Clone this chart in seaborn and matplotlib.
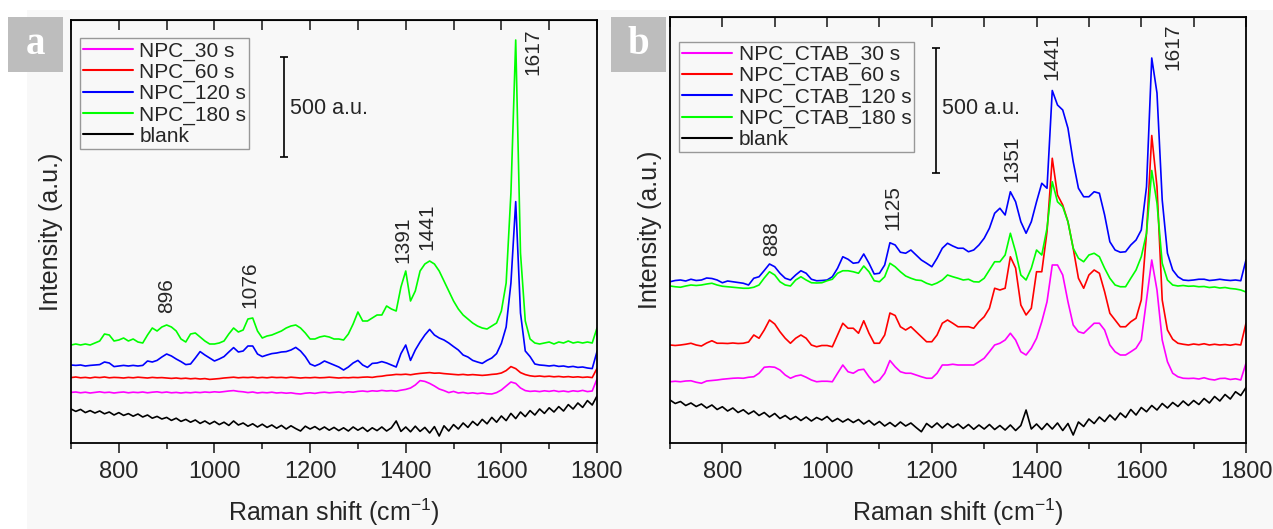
# Raman spectra of NPC samples, two panels (a: NPC, b: NPC_CTAB)
import pandas as pd
import seaborn as sns
import matplotlib.pyplot as plt
from matplotlib.patches import Rectangle
from matplotlib.ticker import MultipleLocator
from matplotlib.font_manager import FontProperties

# ---------------------------------
# DATA (intensity in a.u., curves already stacked as in the figure)
# ---------------------------------
shift = list(range(700, 1801, 10))

npc_30 = [253, 255, 251, 254, 250, 253, 256, 252, 254, 250,
          253, 255, 251, 254, 252, 255, 251, 254, 256, 252,
          255, 251, 253, 250, 253, 251, 254, 252, 255, 253,
          256, 254, 257, 260, 262, 258, 256, 252, 255, 250,
          253, 251, 254, 250, 252, 249, 251, 247, 245, 249,
          251, 248, 252, 254, 251, 253, 255, 252, 256, 254,
          258, 260, 257, 261, 259, 263, 260, 262, 259, 264,
          268, 275, 290, 312, 308, 298, 285, 270, 262, 252,
          258, 250, 253, 248, 251, 247, 250, 246, 245, 252,
          265, 285, 305, 298, 275, 262, 258, 260, 257, 261,
          258, 262, 257, 260, 256, 261, 258, 263, 257, 260,
          320]
npc_60 = [327, 330, 326, 328, 325, 329, 327, 330, 326, 328,
          327, 325, 328, 326, 329, 327, 325, 328, 326, 327,
          325, 323, 325, 322, 324, 321, 323, 320, 322, 318,
          320, 322, 325, 327, 329, 326, 328, 327, 329, 326,
          328, 326, 329, 327, 328, 326, 329, 327, 325, 327,
          326, 328, 326, 327, 329, 327, 325, 327, 326, 328,
          327, 329, 330, 328, 332, 334, 338, 340, 343, 342,
          344, 341, 345, 348, 350, 352, 349, 350, 347, 345,
          343, 341, 343, 340, 342, 340, 338, 340, 343, 345,
          350, 362, 382, 372, 352, 342, 336, 333, 335, 332,
          334, 331, 333, 330, 332, 329, 331, 328, 330, 327,
          373]
npc_120 = [390, 388, 390, 385, 388, 390, 392, 405, 400, 382,
           385, 388, 385, 388, 385, 388, 410, 405, 413, 430,
           445, 435, 420, 407, 392, 395, 425, 457, 440, 425,
           410, 420, 432, 455, 477, 455, 460, 485, 485, 445,
           432, 440, 447, 450, 455, 457, 465, 478, 460, 432,
           395, 385, 395, 410, 400, 390, 380, 365, 380, 400,
           413, 390, 378, 398, 400, 407, 400, 390, 380, 447,
           490, 413, 465, 505, 540, 568, 540, 525, 515, 500,
           482, 465, 440, 430, 413, 405, 398, 413, 425, 447,
           498, 580, 800, 1207, 650, 460, 432, 395, 390, 388,
           385, 388, 383, 385, 380, 383, 378, 380, 375, 372,
           457]
npc_180 = [490, 495, 490, 495, 490, 500, 510, 545, 540, 510,
           515, 525, 510, 520, 505, 500, 540, 575, 560, 580,
           590, 580, 560, 520, 505, 545, 550, 530, 510, 495,
           495, 500, 510, 545, 575, 555, 565, 620, 625, 560,
           525, 535, 540, 550, 560, 575, 585, 590, 575, 550,
           520, 520, 530, 535, 530, 520, 520, 515, 545, 595,
           655, 610, 610, 625, 640, 640, 685, 670, 660, 780,
           860, 710, 760, 860, 895, 910, 895, 860, 810, 760,
           710, 670, 640, 620, 600, 585, 575, 570, 585, 600,
           660, 800, 1250, 2015, 950, 610, 520, 500, 495, 500,
           505, 495, 505, 500, 510, 500, 505, 500, 505, 500,
           575]
blank_a = [170, 158, 168, 152, 162, 150, 160, 146, 155, 140,
           152, 138, 147, 134, 145, 130, 140, 124, 133, 120,
           128, 113, 124, 108, 118, 104, 115, 98, 110, 95,
           108, 92, 104, 88, 110, 90, 100, 84, 96, 80,
           94, 78, 90, 74, 88, 70, 86, 72, 60, 84,
           70, 82, 66, 80, 64, 78, 62, 76, 60, 80,
           64, 78, 58, 76, 62, 80, 60, 76, 110, 58,
           80, 56, 84, 58, 78, 50, 82, 35, 86, 60,
           92, 70, 100, 78, 108, 88, 118, 96, 128, 104,
           135, 112, 148, 122, 155, 132, 162, 140, 170, 148,
           176, 155, 182, 160, 192, 170, 200, 178, 212, 190,
           235]

ctab_30 = [245, 247, 245, 248, 249, 243, 239, 248, 250, 252,
           255, 257, 259, 260, 259, 263, 265, 279, 303, 305,
           303, 292, 272, 259, 268, 272, 263, 252, 245, 247,
           247, 245, 279, 312, 285, 279, 292, 295, 265, 241,
           252, 279, 330, 305, 285, 279, 279, 272, 265, 259,
           259, 279, 312, 312, 315, 312, 312, 312, 312, 325,
           339, 365, 392, 399, 412, 439, 412, 365, 352, 379,
           419, 485, 565, 712, 712, 672, 565, 472, 445, 439,
           459, 479, 479, 452, 392, 365, 352, 352, 365, 379,
           412, 572, 732, 612, 412, 325, 279, 265, 259, 258,
           259, 256, 261, 255, 252, 258, 259, 254, 257, 252,
           319]
ctab_60 = [392, 390, 392, 395, 399, 392, 388, 400, 409, 399,
           399, 398, 400, 398, 399, 404, 432, 419, 452, 492,
           476, 445, 419, 399, 419, 432, 419, 392, 385, 390,
           390, 385, 432, 479, 459, 459, 439, 489, 439, 399,
           399, 432, 520, 510, 465, 452, 465, 445, 425, 405,
           405, 432, 479, 492, 479, 465, 465, 465, 459, 485,
           505, 539, 619, 612, 619, 745, 700, 552, 512, 539,
           685, 685, 845, 1139, 992, 952, 885, 779, 659, 619,
           672, 692, 679, 605, 519, 492, 465, 465, 485, 499,
           572, 839, 1230, 1025, 572, 452, 415, 399, 395, 392,
           396, 393, 397, 392, 395, 392, 394, 391, 395, 392,
           479]
ctab_120 = [645, 650, 652, 648, 655, 650, 652, 660, 658, 652,
            641, 648, 645, 642, 639, 632, 659, 665, 690, 716,
            705, 679, 659, 652, 672, 689, 679, 655, 649, 650,
            652, 665, 699, 745, 735, 719, 722, 756, 719, 676,
            679, 712, 801, 792, 763, 759, 772, 752, 732, 719,
            705, 739, 779, 799, 788, 779, 779, 765, 772, 792,
            819, 859, 919, 939, 912, 1005, 965, 885, 839, 885,
            965, 1039, 1019, 1410, 1352, 1332, 1259, 1125, 1019, 985,
            985, 1005, 999, 912, 805, 772, 763, 765, 792, 812,
            852, 1025, 1540, 1400, 972, 759, 692, 665, 652, 650,
            652, 655, 655, 650, 652, 655, 652, 650, 652, 649,
            732]
ctab_180 = [628, 625, 623, 628, 632, 630, 632, 636, 639, 632,
            627, 625, 623, 621, 619, 619, 623, 632, 660, 685,
            672, 645, 632, 628, 652, 665, 652, 641, 640, 641,
            649, 655, 679, 689, 689, 685, 679, 708, 685, 649,
            645, 665, 719, 705, 685, 668, 659, 652, 650, 639,
            632, 640, 652, 672, 665, 659, 652, 655, 645, 644,
            659, 692, 725, 725, 752, 839, 765, 672, 652, 699,
            772, 752, 859, 1045, 965, 945, 885, 779, 739, 725,
            752, 759, 745, 699, 659, 632, 625, 625, 659, 692,
            745, 839, 1090, 960, 719, 652, 632, 628, 630, 627,
            628, 625, 626, 622, 624, 620, 622, 618, 616, 612,
            604]
blank_b = [172, 158, 166, 150, 160, 146, 156, 140, 152, 134,
           145, 128, 140, 122, 133, 116, 128, 110, 122, 104,
           118, 98, 110, 94, 106, 90, 104, 88, 102, 92,
           106, 86, 98, 84, 96, 82, 94, 76, 90, 72,
           86, 68, 82, 66, 84, 68, 80, 62, 45, 78,
           62, 80, 60, 78, 62, 76, 58, 74, 55, 72,
           56, 74, 54, 70, 52, 72, 50, 70, 132, 56,
           76, 54, 78, 56, 80, 50, 78, 32, 84, 66,
           96, 78, 104, 86, 112, 92, 120, 102, 134, 112,
           142, 125, 150, 132, 158, 140, 162, 146, 168, 150,
           170, 154, 178, 160, 186, 168, 194, 176, 205, 190,
           222]

labels_a = ["NPC_30 s", "NPC_60 s", "NPC_120 s", "NPC_180 s", "blank"]
labels_b = ["NPC_CTAB_30 s", "NPC_CTAB_60 s", "NPC_CTAB_120 s", "NPC_CTAB_180 s", "blank"]
colors = ["#ff00ff", "#ff0000", "#0000ff", "#00ff00", "#000000"]

# peak labels: (text, x, y of the text bottom)
peaks_a = [("896", 900, 650), ("1076", 1075, 675), ("1391", 1395, 900),
           ("1441", 1444, 965), ("1617", 1666, 1840)]
peaks_b = [("888", 894, 750), ("1125", 1126, 852), ("1351", 1352, 1044),
           ("1441", 1430, 1452), ("1617", 1660, 1492)]

# ---------------------------------
# STYLE
# ---------------------------------
sns.set_style("ticks")
plt.rcParams["font.family"] = ["Liberation Sans", "DejaVu Sans"]
plt.rcParams["mathtext.default"] = "regular"
plt.rcParams["axes.unicode_minus"] = False

W, H = 1273, 529
fig = plt.figure(figsize=(W / 100, H / 100), dpi=100, facecolor="white")
bg = "#f8f8f8"
fig.patches.append(Rectangle((27 / W, 0), 1 - 27 / W, 1 - 10 / H,
                             transform=fig.transFigure, fc=bg, ec="none", zorder=-5))


def make_df(series, labels):
    rows = []
    for s, lab in zip(series, labels):
        rows.append(pd.DataFrame({"shift": shift, "intensity": s, "sample": lab}))
    return pd.concat(rows, ignore_index=True)


def draw_panel(rect, df, labels, ytop, peaks, bar_x, bar_y0, text_x, text_y, leg_anchor):
    ax = fig.add_axes(rect)
    ax.set_facecolor(bg)
    sns.lineplot(data=df, x="shift", y="intensity", hue="sample", hue_order=labels,
                 palette=colors, estimator=None, lw=1.2, ax=ax)
    ax.set_xlim(700, 1800)
    ax.set_ylim(0, ytop)
    ax.set_yticks([])
    ax.set_ylabel("Intensity (a.u.)", fontsize=18, labelpad=6)
    ax.set_xlabel("Raman shift (cm$^{-1}$)", fontsize=18, labelpad=10)
    ax.xaxis.set_major_locator(MultipleLocator(200))
    ax.xaxis.set_minor_locator(MultipleLocator(100))
    ax.tick_params(axis="x", which="major", direction="out", length=7, width=1.2,
                   labelsize=17, pad=6)
    ax.tick_params(axis="x", which="minor", direction="out", length=4, width=1.2)
    for sp in ax.spines.values():
        sp.set_visible(True)
        sp.set_linewidth(1.3)
        sp.set_color("black")
    top = ax.secondary_xaxis("top")
    top.xaxis.set_major_locator(MultipleLocator(100))
    top.tick_params(direction="in", length=7, width=1.2, labeltop=False)

    for txt, px, py in peaks:
        ax.text(px, py, txt, rotation=90, ha="center", va="bottom", fontsize=15)

    # 500 a.u. scale bar
    ax.errorbar([bar_x], [bar_y0 + 250], yerr=250, fmt="none", ecolor="black",
                elinewidth=1.2, capsize=3, capthick=1.2)
    ax.text(text_x, text_y, "500 a.u.", ha="left", va="center", fontsize=15.5)

    leg = ax.legend(loc="upper left", bbox_to_anchor=leg_anchor, borderaxespad=0,
                    fontsize=15, frameon=True, fancybox=False, handlelength=2.4,
                    handletextpad=0.3, labelspacing=0.1, borderpad=0.15)
    leg.get_frame().set_edgecolor("#808080")
    leg.get_frame().set_linewidth(1.0)
    leg.get_frame().set_facecolor(bg)
    for h in leg.get_lines():
        h.set_linewidth(1.5)
    return ax


df_a = make_df([npc_30, npc_60, npc_120, npc_180, blank_a], labels_a)
df_b = make_df([ctab_30, ctab_60, ctab_120, ctab_180, blank_b], labels_b)

draw_panel([71 / W, 86 / H, 526 / W, 423 / H], df_a, labels_a, 2115, peaks_a,
           1146, 1430, 1158, 1675, (0.017, 0.957))
draw_panel([670 / W, 86 / H, 576 / W, 426 / H], df_b, labels_b, 1704, peaks_b,
           1208, 1080, 1220, 1340, (0.016, 0.942))

# panel letters (slab-serif look)
slab = FontProperties(family=["Liberation Serif", "DejaVu Serif"], weight="bold", size=28)
for x0, letter in [(8, "a"), (611, "b")]:
    fig.patches.append(Rectangle((x0 / W, 1 - 72 / H), 55 / W, 55 / H,
                                 transform=fig.transFigure, fc="#bdbdbd", ec="none"))
    fig.text((x0 + 27.5) / W, 1 - 44.5 / H, letter, ha="center", va="center",
             color="white", fontproperties=slab)

fig.savefig("out.png", dpi=100, facecolor=fig.get_facecolor())
